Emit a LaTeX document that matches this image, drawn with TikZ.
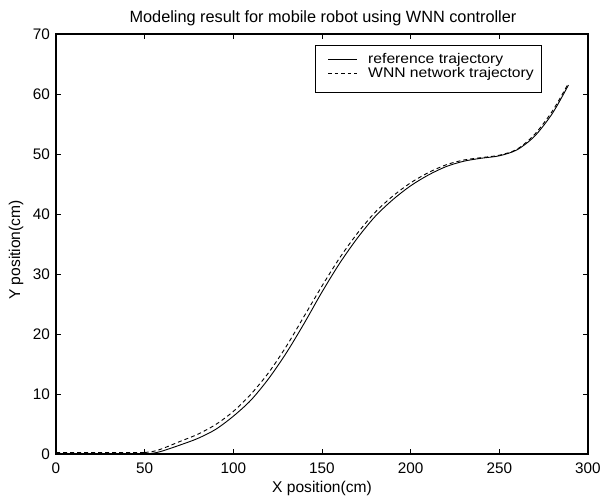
\documentclass[tikz,border=0pt]{standalone}
\usepackage{fontspec}
\setmainfont{Liberation Sans}
\newfontfamily\legfont{Liberation Sans}[FakeStretch=1.12]
\begin{document}
\begin{tikzpicture}[x=1pt,y=1pt,
  font=\fontsize{15.3}{18}\selectfont,
  axisline/.style={line width=1.1pt},
  tickmark/.style={line width=0.8pt},
  ticklab/.style={inner sep=0pt},
  labtext/.style={inner sep=0pt, font=\fontsize{15.6}{18}\selectfont},
  legtext/.style={inner sep=0pt, anchor=base west, font=\legfont\fontsize{14}{16}\selectfont},
  refcurve/.style={line width=0.9pt},
  wnncurve/.style={line width=0.9pt, dash pattern=on 4pt off 3pt},
  legline/.style={line width=0.7pt}]
\useasboundingbox (0,0) rectangle (603,499);
\fill[white] (0,0) rectangle (603,499);
% axes box
\coordinate (ll) at (56,45);
\coordinate (ur) at (588,465);
\draw[axisline] (ll) rectangle (ur);
% x ticks
\foreach \v in {0,50,...,300} {
  \pgfmathsetmacro\px{56+\v*1.7733}
  \draw[tickmark] (\px,45) -- ++(0,5);
  \draw[tickmark] (\px,465) -- ++(0,-5);
  \node[ticklab, anchor=base] (xt\v) at (\px,26) {\v};
}
% y ticks
\foreach \v in {0,10,...,70} {
  \pgfmathsetmacro\py{45+\v*6}
  \draw[tickmark] (56,\py) -- ++(5,0);
  \draw[tickmark] (588,\py) -- ++(-5,0);
  \node[ticklab, anchor=east] (yt\v) at (50,\py) {\v};
}
% labels
\node[anchor=base, inner sep=0pt, font=\fontsize{16.3}{19}\selectfont] (title) at (323,476.5) {Modeling result for mobile robot using WNN controller};
\node[labtext, anchor=base] (xlab) at (322,6.5) {X position(cm)};
\node[labtext, anchor=base, rotate=90] (ylab) at (20,249) {Y position(cm)};
% curves
\begin{scope}[shift={(56pt,45pt)}, x=1.7733pt, y=6pt]
  \draw[refcurve] (0,0) -- (50,0)
    plot[smooth] coordinates {(50,0) (55,0.15) (60,0.5) (70,1.5) (80,2.6) (90,4.1) (100,6.3) (110,9.0) (120,12.6) (130,16.9) (140,21.8) (150,27.0) (160,31.8) (170,36.0) (180,39.6) (190,42.4) (200,44.7) (210,46.5) (220,47.9) (230,48.8) (240,49.3) (250,49.7) (260,50.7) (270,53.0) (280,56.8) (289,61.5)};
  \draw[wnncurve] (0,0.25) -- (50,0.25)
    plot[smooth] coordinates {(50,0.25) (55,0.45) (60,0.9) (70,2.1) (80,3.3) (90,4.9) (100,7.1) (110,10.0) (120,13.6) (130,18.0) (140,23.0) (150,28.0) (160,32.7) (170,36.8) (180,40.3) (190,43.0) (200,45.2) (210,46.9) (220,48.2) (230,49.0) (240,49.4) (250,49.8) (260,50.8) (270,53.3) (280,57.2) (289,61.8)};
\end{scope}
% legend
\node[draw, line width=0.8pt, fill=white, minimum width=226pt, minimum height=47pt, inner sep=0pt, anchor=north west] (legbox) at (315,454) {};
\coordinate (l1a) at (328,440);
\coordinate (l1b) at (357,440);
\coordinate (l2a) at (328,426);
\coordinate (l2b) at (357,426);
\draw[legline] (l1a) -- (l1b);
\draw[legline, dash pattern=on 3.5pt off 3pt] (l2a) -- (l2b);
\node[legtext] (leg1) at (368,435) {reference trajectory};
\node[legtext] (leg2) at (368,421) {WNN network trajectory};
\end{tikzpicture}
\end{document}
